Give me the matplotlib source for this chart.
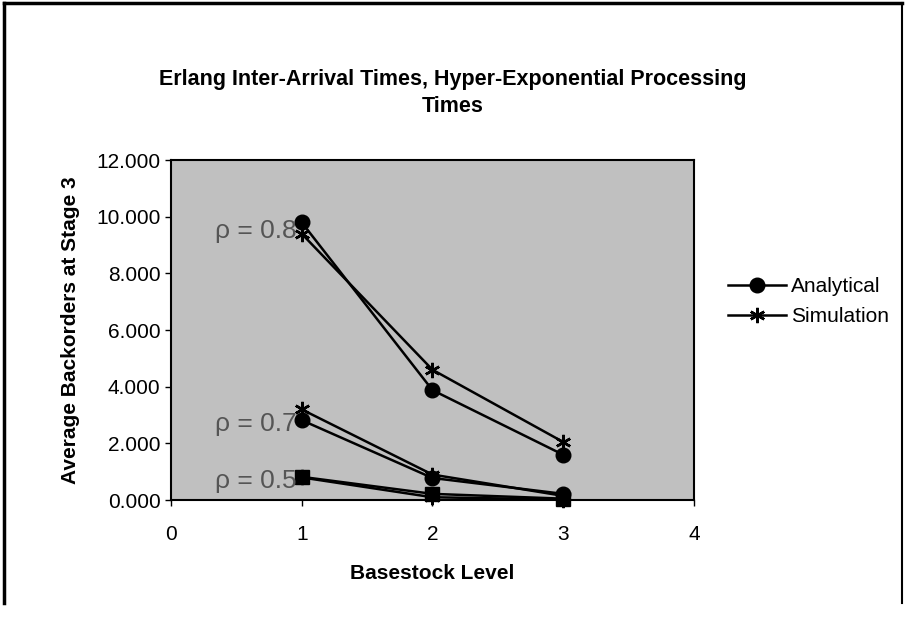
import numpy as np
import matplotlib.pyplot as plt
from matplotlib.lines import Line2D

plt.rcParams['font.family'] = ['Liberation Sans', 'DejaVu Sans']

basestock = [1, 2, 3]

# average backorders at stage 3
ana_08 = [9.80, 3.88, 1.60]
sim_08 = [9.40, 4.60, 2.05]
ana_07 = [2.82, 0.78, 0.22]
sim_07 = [3.20, 0.90, 0.15]
ana_05 = [0.82, 0.22, 0.05]
sim_05 = [0.80, 0.10, 0.02]

rho_labels = ['\u03c1 = 0.8', '\u03c1 = 0.7', '\u03c1 = 0.5']
rho_label_y = [9.5, 2.7, 0.67]

fig = plt.figure(figsize=(9.06, 6.22), dpi=100)
ax = fig.add_axes([0.1887, 0.196, 0.5773, 0.5466])
ax.set_facecolor('#c0c0c0')

star = (6, 2, 0)
kw = dict(color='black', lw=1.8, clip_on=False)
ax.plot(basestock, sim_08, marker=star, ms=11, mew=1.8, **kw)
ax.plot(basestock, ana_08, marker='o', ms=10.5, **kw)
ax.plot(basestock, sim_07, marker=star, ms=11, mew=1.8, **kw)
ax.plot(basestock, ana_07, marker='o', ms=10.5, **kw)
ax.plot(basestock, sim_05, marker=star, ms=11, mew=1.8, **kw)
ax.plot(basestock, ana_05, marker='s', ms=9.5, **kw)

for lab, yy in zip(rho_labels, rho_label_y):
    ax.text(0.96, yy, lab, ha='right', va='center', fontsize=19, color='#555555')

ax.set_xlim(0, 4)
ax.set_ylim(0, 12)
ax.set_xticks(range(0, 5))
ax.set_yticks(np.arange(0, 13, 2))
ax.set_yticklabels([f'{v:.3f}' for v in np.arange(0, 13, 2)])
ax.tick_params(labelsize=15, length=4, width=1, direction='out')
ax.tick_params(axis='x', pad=14)
for s in ax.spines.values():
    s.set_linewidth(1.5)
    s.set_color('black')

ax.set_xlabel('Basestock Level', fontsize=15, fontweight='bold', labelpad=14)
ax.set_ylabel('Average Backorders at Stage 3', fontsize=15, fontweight='bold', labelpad=12)

fig.text(0.5, 1 - 80 / 622, 'Erlang Inter-Arrival Times, Hyper-Exponential Processing',
         ha='center', va='center', fontsize=15.5, fontweight='bold')
fig.text(0.5, 1 - 107 / 622, 'Times',
         ha='center', va='center', fontsize=15.5, fontweight='bold')

handles = [Line2D([], [], color='black', lw=1.8, marker='o', ms=10.5),
           Line2D([], [], color='black', lw=1.8, marker=star, ms=11, mew=1.8)]
fig.legend(handles, ['Analytical', 'Simulation'], loc='center left',
           bbox_to_anchor=(0.783, 0.515), frameon=False, fontsize=15,
           handlelength=2.8, handletextpad=0.2, labelspacing=0.55)

# outer frame of the scanned chart
fig.add_artist(Line2D([0.004, 0.004], [0.03, 0.995], color='black', lw=2.5))
fig.add_artist(Line2D([0.004, 0.996], [0.995, 0.995], color='black', lw=2.5))
fig.add_artist(Line2D([0.996, 0.996], [0.03, 0.995], color='black', lw=1.5))

fig.savefig('out.png', dpi=100)
